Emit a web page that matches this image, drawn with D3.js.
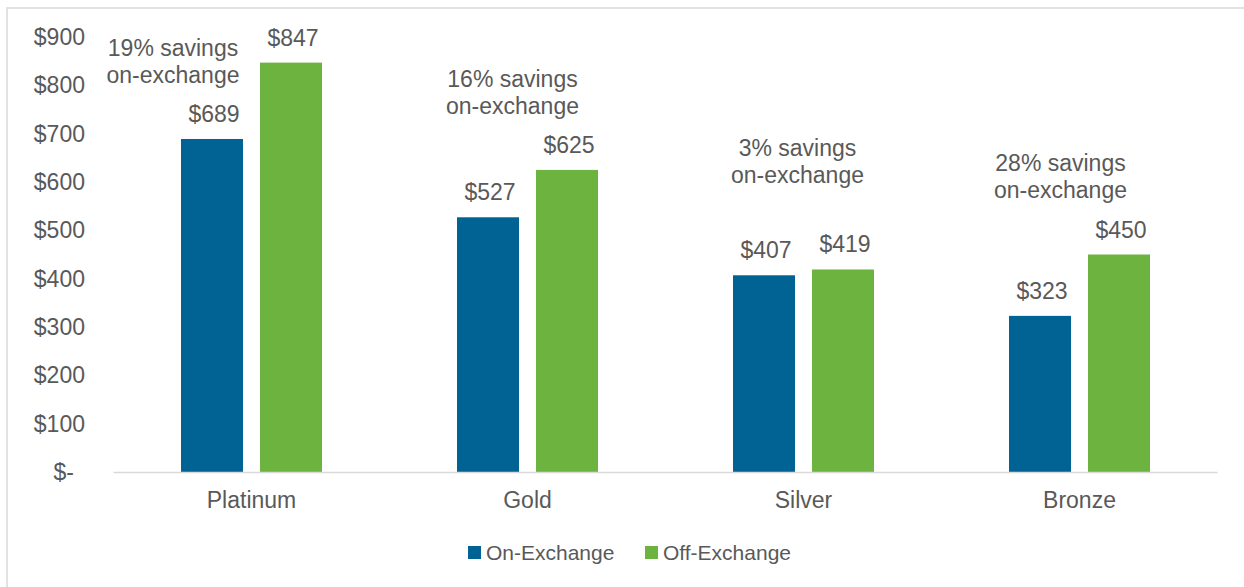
<!DOCTYPE html>
<html>
<head>
<meta charset="utf-8">
<script src="https://cdn.jsdelivr.net/npm/d3@7"></script>
<style>
  html, body { margin: 0; padding: 0; background: #ffffff; }
  svg { display: block; }
  text { font-family: "Liberation Sans", Arial, sans-serif; fill: #595959; }
</style>
</head>
<body>
<svg id="chart" width="1244" height="587"></svg>
<script>
// ---- data ----
const categories = ["Platinum", "Gold", "Silver", "Bronze"];
const seriesNames = ["On-Exchange", "Off-Exchange"];
const onExchange = [689, 527, 407, 323];
const offExchange = [847, 625, 419, 450];
const savingsPct = [19, 16, 3, 28];
const yTicks = [0, 100, 200, 300, 400, 500, 600, 700, 800, 900];

// ---- layout (not data) ----
const colors = ["#006394", "#6db33f"];
// annotation anchors: [x offset from category centre (px), first-line baseline in value units]
const annotLayout = [[-78.5, 861], [-15, 797], [-6, 654], [-19, 623]];

const svg = d3.select("#chart");
const W = 1244, H = 587;

// frame
svg.append("rect")
  .attr("x", 7).attr("y", 8)
  .attr("width", W + 20).attr("height", H + 20)
  .attr("fill", "none").attr("stroke", "#d9d9d9").attr("stroke-width", 1.5);

const x = d3.scaleBand().domain(categories).range([113.5, 1217.5]).padding(0);
const xInner = d3.scaleBand().domain(seriesNames).range([-70.5, 70.5]).paddingInner(0.215);
const y = d3.scaleLinear().domain([0, 900]).range([472, 37]);

// y axis labels
const fmt = v => v === 0 ? "$-" : "$" + v;
const yAxis = d3.axisLeft(y).tickValues(yTicks).tickFormat(fmt).tickSize(0).tickPadding(0);
const gy = svg.append("g").attr("transform", "translate(85,0)").call(yAxis);
gy.select(".domain").remove();
gy.selectAll("text")
  .style("font-family", '"Liberation Sans", Arial, sans-serif')
  .style("font-size", "23px")
  .attr("fill", "#595959")
  .attr("dx", d => d === 0 ? -11 : 0);

// bars
const groups = svg.append("g").selectAll("g")
  .data(categories)
  .join("g")
  .attr("transform", d => `translate(${x(d) + x.bandwidth() / 2},0)`);

const rows = categories.map((c, i) => [
  { cat: c, s: seriesNames[0], v: onExchange[i], color: colors[0] },
  { cat: c, s: seriesNames[1], v: offExchange[i], color: colors[1] }
]);

groups.each(function (c, i) {
  const g = d3.select(this);
  g.selectAll("rect")
    .data(rows[i])
    .join("rect")
    .attr("x", d => xInner(d.s))
    .attr("width", xInner.bandwidth())
    .attr("y", d => y(d.v))
    .attr("height", d => y(0) - y(d.v))
    .attr("fill", d => d.color);
  g.selectAll("text.val")
    .data(rows[i])
    .join("text")
    .attr("class", "val")
    .attr("x", d => xInner(d.s) + xInner.bandwidth() / 2 + 2)
    .attr("y", d => y(d.v) - 17)
    .attr("text-anchor", "middle")
    .style("font-size", "23px")
    .text(d => "$" + d.v);
  // annotation
  const [dx, av] = annotLayout[i];
  const t = g.append("text")
    .attr("text-anchor", "middle")
    .style("font-size", "23px");
  t.append("tspan").attr("x", dx).attr("y", y(av)).text(savingsPct[i] + "% savings");
  t.append("tspan").attr("x", dx).attr("y", y(av) + 27.5).text("on-exchange");
});

// x axis baseline
svg.append("line")
  .attr("x1", x.range()[0]).attr("x2", x.range()[1])
  .attr("y1", y(0) + 0.5).attr("y2", y(0) + 0.5)
  .attr("stroke", "#d9d9d9").attr("stroke-width", 1.5);

// category labels
const xAxis = d3.axisBottom(x).tickSize(0).tickPadding(0);
const gx = svg.append("g").attr("transform", "translate(0,0)").call(xAxis);
gx.select(".domain").remove();
gx.selectAll("text")
  .attr("y", 508).attr("dy", null)
  .style("font-family", '"Liberation Sans", Arial, sans-serif')
  .style("font-size", "23px")
  .attr("fill", "#595959");

// legend
const legendItems = [
  { name: seriesNames[0], color: colors[0], x: 468 },
  { name: seriesNames[1], color: colors[1], x: 645 }
];
const lg = svg.append("g").selectAll("g").data(legendItems).join("g")
  .attr("transform", d => `translate(${d.x},546)`);
lg.append("rect").attr("width", 13).attr("height", 13).attr("fill", d => d.color);
lg.append("text").attr("x", 18).attr("y", 13.5).style("font-size", "21px").text(d => d.name);
</script>
</body>
</html>
